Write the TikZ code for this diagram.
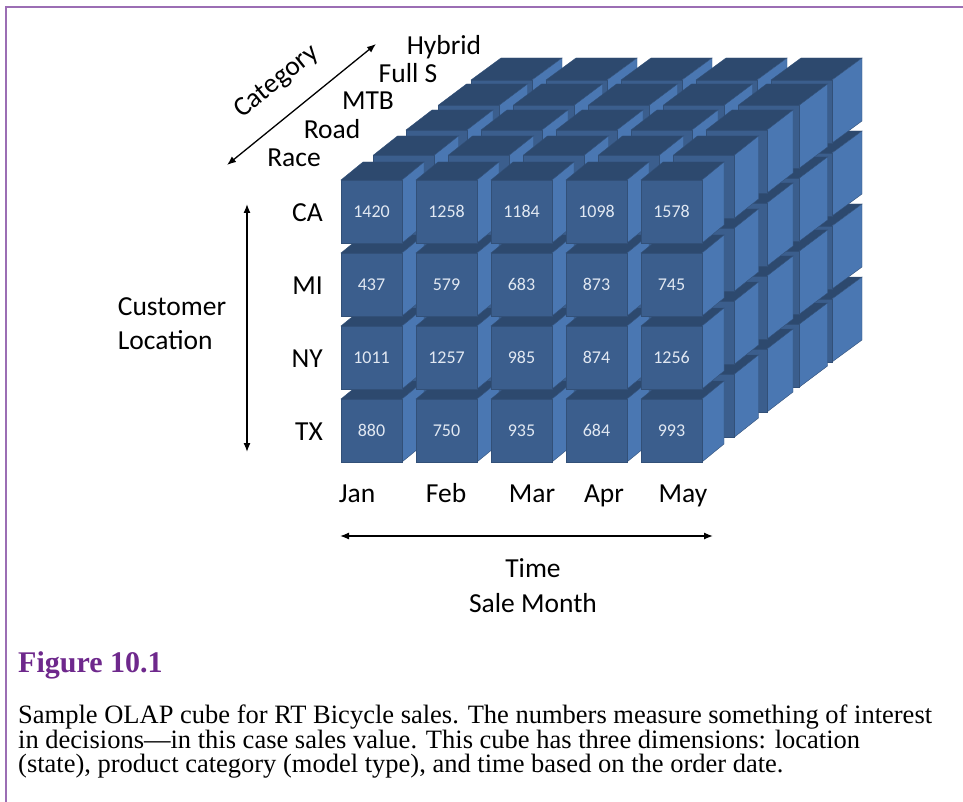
\documentclass[tikz,border=0pt]{standalone}
\usepackage{fontspec}
\setmainfont{Liberation Serif}
\newfontfamily\calibrifont{Carlito}
\usetikzlibrary{arrows.meta}

\definecolor{cubefrontcol}{RGB}{59,94,141}
\definecolor{cubesidecol}{RGB}{74,119,178}
\definecolor{cubetopcol}{RGB}{45,73,110}
\definecolor{cubeedgecol}{RGB}{50,80,120}
\definecolor{framecol}{RGB}{155,110,180}
\definecolor{titlecol}{RGB}{110,40,140}
\definecolor{numcol}{RGB}{225,232,242}

\tikzset{
  cubefront/.style={fill=cubefrontcol, draw=cubeedgecol, line width=0.4pt},
  cubeside/.style={fill=cubesidecol, draw=cubeedgecol, line width=0.4pt},
  cubetop/.style={fill=cubetopcol, draw=cubeedgecol, line width=0.4pt},
  dimlabel/.style={font=\calibrifont\fontsize{27.5}{34}\selectfont, inner sep=0pt},
  cellnum/.style={font=\calibrifont\fontsize{18}{20}\selectfont, text=numcol, inner sep=0pt},
  axisarrow/.style={{Latex[length=9pt,width=7pt]}-{Latex[length=9pt,width=7pt]}, line width=1.3pt},
}

% one cell of the cube, front face top left corner at (#1,#2), depth (#3,#4)
\newcommand{\olapcube}[4]{%
  \begin{scope}[shift={(#1,#2)}]
    \filldraw[cubetop] (0,0) -- (#3,#4) -- (61+#3,#4) -- (61,0) -- cycle;
    \filldraw[cubeside] (61,0) -- (61+#3,#4) -- (61+#3,#4-63) -- (61,-63) -- cycle;
    \filldraw[cubefront] (0,0) rectangle (61,-63);
  \end{scope}}

\begin{document}
\begin{tikzpicture}[x=1pt,y=1pt]
\useasboundingbox (0,0) rectangle (963,-802);

% frame
\draw[framecol, line width=2pt] (6,-802) -- (6,-7) -- (963,-7);

% cube cells, back to front
\foreach \l in {4,3,2,1,0}{
  \foreach \r in {3,2,1,0}{
    \foreach \c in {0,1,2,3,4}{
      \pgfmathsetmacro{\cx}{341+75*\c+32.5*\l}
      \pgfmathsetmacro{\cy}{-180-73*\r+25*\l}
      \pgfmathsetmacro{\dx}{22+2*\l}
      \pgfmathsetmacro{\dy}{18+\l}
      \olapcube{\cx}{\cy}{\dx}{\dy}
    }}}

% values in the front layer
\node[cellnum] (v11) at (371.5,-211.5) {1420};
\node[cellnum] (v12) at (446.5,-211.5) {1258};
\node[cellnum] (v13) at (521.5,-211.5) {1184};
\node[cellnum] (v14) at (596.5,-211.5) {1098};
\node[cellnum] (v15) at (671.5,-211.5) {1578};

\node[cellnum] (v21) at (371.5,-284.5) {437};
\node[cellnum] (v22) at (446.5,-284.5) {579};
\node[cellnum] (v23) at (521.5,-284.5) {683};
\node[cellnum] (v24) at (596.5,-284.5) {873};
\node[cellnum] (v25) at (671.5,-284.5) {745};

\node[cellnum] (v31) at (371.5,-357.5) {1011};
\node[cellnum] (v32) at (446.5,-357.5) {1257};
\node[cellnum] (v33) at (521.5,-357.5) {985};
\node[cellnum] (v34) at (596.5,-357.5) {874};
\node[cellnum] (v35) at (671.5,-357.5) {1256};

\node[cellnum] (v41) at (371.5,-430.5) {880};
\node[cellnum] (v42) at (446.5,-430.5) {750};
\node[cellnum] (v43) at (521.5,-430.5) {935};
\node[cellnum] (v44) at (596.5,-430.5) {684};
\node[cellnum] (v45) at (671.5,-430.5) {993};

% category axis
\node[dimlabel, anchor=base] (hybrid) at (444,-55) {Hybrid};
\node[dimlabel, anchor=base] (fulls) at (408,-83) {Full S};
\node[dimlabel, anchor=base] (mtb) at (368,-110) {MTB};
\node[dimlabel, anchor=base] (road) at (332,-139) {Road};
\node[dimlabel, anchor=base] (race) at (294,-167) {Race};
\node[dimlabel, rotate=39] (category) at (277,-82) {Category};
\coordinate (catlo) at (227,-165);
\coordinate (cathi) at (376,-44);
\draw[axisarrow] (catlo) -- (cathi);

% location axis
\node[dimlabel, anchor=east] (ca) at (323,-213) {CA};
\node[dimlabel, anchor=east] (mi) at (323,-286) {MI};
\node[dimlabel, anchor=east] (ny) at (323,-359) {NY};
\node[dimlabel, anchor=east] (tx) at (323,-432) {TX};
\node[dimlabel, align=left] (customer) at (172,-324) {Customer\\Location};
\coordinate (loctop) at (247,-204);
\coordinate (locbot) at (247,-452);
\draw[axisarrow] (loctop) -- (locbot);

% time axis
\node[dimlabel, anchor=base] (jan) at (357,-502.5) {Jan};
\node[dimlabel, anchor=base] (feb) at (446,-502.5) {Feb};
\node[dimlabel, anchor=base] (mar) at (532,-502.5) {Mar};
\node[dimlabel, anchor=base] (apr) at (604,-502.5) {Apr};
\node[dimlabel, anchor=base] (may) at (683,-502.5) {May};
\coordinate (timel) at (340,-536);
\coordinate (timer) at (713,-536);
\draw[axisarrow] (timel) -- (timer);
\node[dimlabel] (time) at (533,-568) {Time};
\node[dimlabel] (salemonth) at (533,-603) {Sale Month};

% caption
\node[anchor=west, inner sep=0pt, text=titlecol, font=\bfseries\fontsize{30}{34}\selectfont] (figtitle) at (18,-665) {Figure 10.1};
\node[anchor=north west, inner sep=0pt, align=left, font=\fontsize{26.5}{24.5}\selectfont] (caption) at (18,-705) {Sample OLAP cube for RT Bicycle sales. The numbers measure something of interest\\in decisions—in this case sales value. This cube has three dimensions: location\\(state), product category (model type), and time based on the order date.};
\end{tikzpicture}
\end{document}
